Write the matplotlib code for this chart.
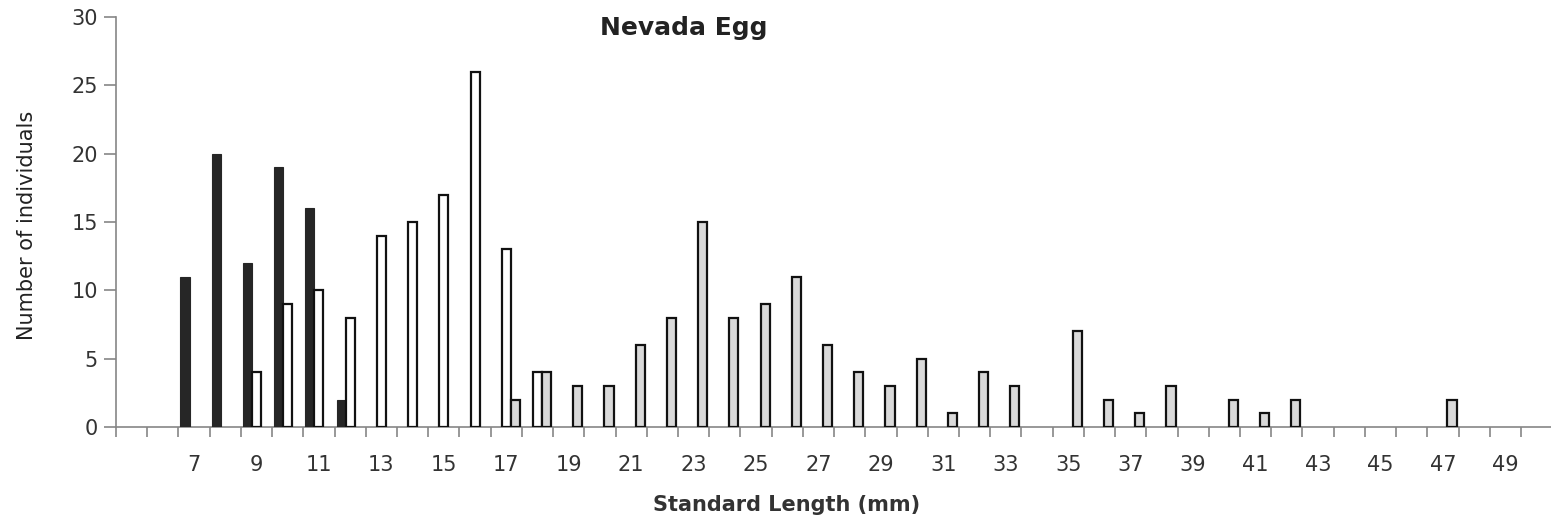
import numpy as np
import matplotlib
matplotlib.use("Agg")
import matplotlib.pyplot as plt

# Length classes (mm) and counts per group
lengths = list(range(5, 51))
group_a = {7: 11, 8: 20, 9: 12, 10: 19, 11: 16, 12: 2}
group_b = {9: 4, 10: 9, 11: 10, 12: 8, 13: 14, 14: 15, 15: 17, 16: 26, 17: 13, 18: 4}
group_c = {17: 2, 18: 4, 19: 3, 20: 3, 21: 6, 22: 8, 23: 15, 24: 8, 25: 9, 26: 11,
           27: 6, 28: 4, 29: 3, 30: 5, 31: 1, 32: 4, 33: 3, 35: 7, 36: 2, 37: 1,
           38: 3, 40: 2, 41: 1, 42: 2, 47: 2}
tick_labels = list(range(7, 50, 2))

fig = plt.figure(figsize=(15.51, 5.24), dpi=100)
ax = fig.add_axes([116 / 1551, 1 - 427 / 524, 1 - 116 / 1551, (427 - 17) / 524])

w = 0.29


def draw(group, offset, **style):
    xs = np.array(list(group.keys()), dtype=float)
    ys = np.array(list(group.values()))
    ax.bar(xs + offset, ys, width=w, **style)


draw(group_a, -w, color="#262626", edgecolor="#262626", linewidth=0.8)
draw(group_b, 0, color="white", edgecolor="#111111", linewidth=1.6)
draw(group_c, w, color="#d9d9d9", edgecolor="#111111", linewidth=1.6)

ax.set_xlim(lengths[0] - 0.5, 50.46)
ax.set_ylim(0, 30)

grey = "#868686"
for s in ("top", "right"):
    ax.spines[s].set_visible(False)
for s in ("left", "bottom"):
    ax.spines[s].set_color(grey)
    ax.spines[s].set_linewidth(1.2)
ax.spines["bottom"].set_zorder(0.5)

ax.set_yticks(range(0, 31, 5))
ax.tick_params(axis="y", length=9, width=1.2, color=grey, pad=4,
               labelsize=15, labelcolor="#333333")

# ticks at class boundaries, labels at odd class centres
ax.set_xticks(np.arange(lengths[0] - 0.5, lengths[-1] + 0.5, 1.0))
ax.set_xticklabels([])
ax.tick_params(axis="x", which="major", length=7, width=1.2, color=grey)
ax.set_xticks(tick_labels, minor=True)
ax.set_xticklabels([str(t) for t in tick_labels], minor=True)
ax.tick_params(axis="x", which="minor", length=0, pad=20,
               labelsize=15, labelcolor="#333333")

fig.text(0.441, 1 - 28 / 524, "Nevada Egg", ha="center", va="center",
         fontsize=18, fontweight="bold", color="#222222")
fig.text(0.507, 1 - 505 / 524, "Standard Length (mm)", ha="center", va="center",
         fontsize=15, fontweight="bold", color="#333333")
fig.text(0.0174, 1 - 225 / 524, "Number of individuals", ha="center", va="center",
         rotation=90, fontsize=15, color="#222222")

fig.savefig("out.png", dpi=100)
